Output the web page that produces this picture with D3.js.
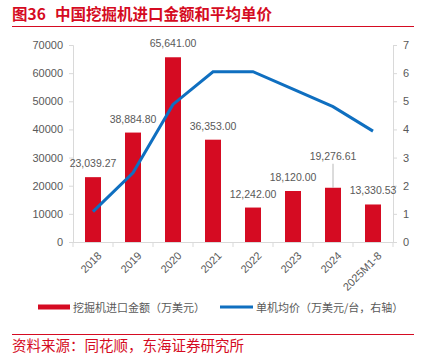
<!DOCTYPE html>
<html><head><meta charset="utf-8">
<script src="https://cdn.jsdelivr.net/npm/d3@7"></script>
<style>
body{margin:0;background:#fff;}
svg{font-family:"Noto Sans CJK SC","Noto Sans",sans-serif;}
</style></head>
<body><svg id="c" width="426" height="359"></svg>
<script>
const categories = ["2018","2019","2020","2021","2022","2023","2024","2025M1-8"];
const importValues = [23039.27, 38884.80, 65641.00, 36353.00, 12242.00, 18120.00, 19276.61, 13330.53];
const unitPrices = [1.08, 2.46, 4.89, 6.05, 6.05, 5.43, 4.81, 3.94];
const leftTicks = [0,10000,20000,30000,40000,50000,60000,70000];
const rightTicks = [0,1,2,3,4,5,6,7];

const red = "#d50b22", blue = "#0f6fc0", grey = "#595959", axisC = "#d9d9d9";
const svg = d3.select("#c");
const m = {l:73, r:393, t:45, b:242};

const x = d3.scaleBand().domain(categories).range([m.l, m.r]).paddingInner(0.6).paddingOuter(0.3);
const xc = d3.scalePoint().domain(categories).range([m.l, m.r]).padding(0.5);
const yL = d3.scaleLinear().domain([0,70000]).range([m.b, m.t]);
const yR = d3.scaleLinear().domain([0,7]).range([m.b, m.t]);

// title
svg.append("text").attr("x",12).attr("y",20).attr("fill",red).attr("font-size",15.5).attr("font-weight","bold")
  .text("图36");
svg.append("text").attr("x",55).attr("y",20).attr("fill",red).attr("font-size",15.5).attr("font-weight","bold")
  .text("中国挖掘机进口金额和平均单价");
svg.append("line").attr("x1",12).attr("x2",414).attr("y1",26.5).attr("y2",26.5).attr("stroke",red).attr("stroke-width",1);

// left axis
const gl = svg.append("g").attr("transform",`translate(${m.l},0)`)
  .call(d3.axisLeft(yL).tickValues(leftTicks).tickSize(4).tickFormat(d3.format("d")));
gl.selectAll("path,line").attr("stroke",axisC);
gl.selectAll("text").attr("fill",grey).attr("font-size",11).attr("font-family","Liberation Sans, Arial, sans-serif").attr("dx",-3);

// right axis
const gr = svg.append("g").attr("transform",`translate(${m.r},0)`)
  .call(d3.axisRight(yR).tickValues(rightTicks).tickSize(4).tickFormat(d3.format("d")));
gr.selectAll("path,line").attr("stroke",axisC);
gr.selectAll("text").attr("fill",grey).attr("font-size",11).attr("font-family","Liberation Sans, Arial, sans-serif").attr("dx",3);

// bottom axis
const step = (m.r - m.l)/categories.length;
const gb = svg.append("g");
gb.append("line").attr("x1",m.l).attr("x2",m.r).attr("y1",m.b+0.5).attr("y2",m.b+0.5).attr("stroke",axisC);
gb.selectAll(".tk").data(d3.range(categories.length+1)).join("line")
  .attr("x1",i=>m.l+i*step).attr("x2",i=>m.l+i*step).attr("y1",m.b).attr("y2",m.b+5).attr("stroke",axisC);
gb.selectAll(".lab").data(categories).join("text")
  .attr("transform",d=>`translate(${xc(d)+4},${m.b+9}) rotate(-45)`)
  .attr("text-anchor","end").attr("dy","0.7em").attr("fill",grey).attr("font-size",11)
  .attr("font-family","Liberation Sans, Arial, sans-serif").text(d=>d);

// bars
svg.selectAll(".bar").data(categories).join("rect")
  .attr("x",d=>x(d)).attr("width",x.bandwidth())
  .attr("y",(d,i)=>yL(importValues[i])).attr("height",(d,i)=>m.b-yL(importValues[i]))
  .attr("fill",red);

// bar labels
const fmt = d3.format(",.2f");
categories.forEach((c,i)=>{
  const by = yL(importValues[i]);
  let ly = by - 10;
  if (i===6){ ly = by - 28;
    svg.append("line").attr("x1",xc(c)).attr("x2",xc(c)).attr("y1",by).attr("y2",ly+4).attr("stroke","#a6a6a6").attr("stroke-width",0.8);
  }
  svg.append("text").attr("x",xc(c)).attr("y",ly).attr("text-anchor","middle").attr("fill",grey)
    .attr("font-size",10.5).attr("font-family","Liberation Sans, Arial, sans-serif").text(fmt(importValues[i]));
});

// line
svg.append("path").datum(unitPrices)
  .attr("d",d3.line().x((d,i)=>xc(categories[i])).y(d=>yR(d)))
  .attr("fill","none").attr("stroke",blue).attr("stroke-width",3);

// legend
svg.append("rect").attr("x",38).attr("y",304.5).attr("width",32).attr("height",5).attr("fill",red);
svg.append("text").attr("x",73).attr("y",311.5).attr("fill",grey).attr("font-size",11).text("挖掘机进口金额（万美元）");
svg.append("rect").attr("x",220).attr("y",305.5).attr("width",33).attr("height",3).attr("fill",blue);
svg.append("text").attr("x",256).attr("y",311.5).attr("fill",grey).attr("font-size",11).text("单机均价（万美元/台，右轴）");

// source
svg.append("line").attr("x1",12).attr("x2",414).attr("y1",334.5).attr("y2",334.5).attr("stroke",red).attr("stroke-width",1);
svg.append("text").attr("x",12).attr("y",351).attr("fill",red).attr("font-size",14.5).text("资料来源：同花顺，东海证券研究所");
</script></body></html>
